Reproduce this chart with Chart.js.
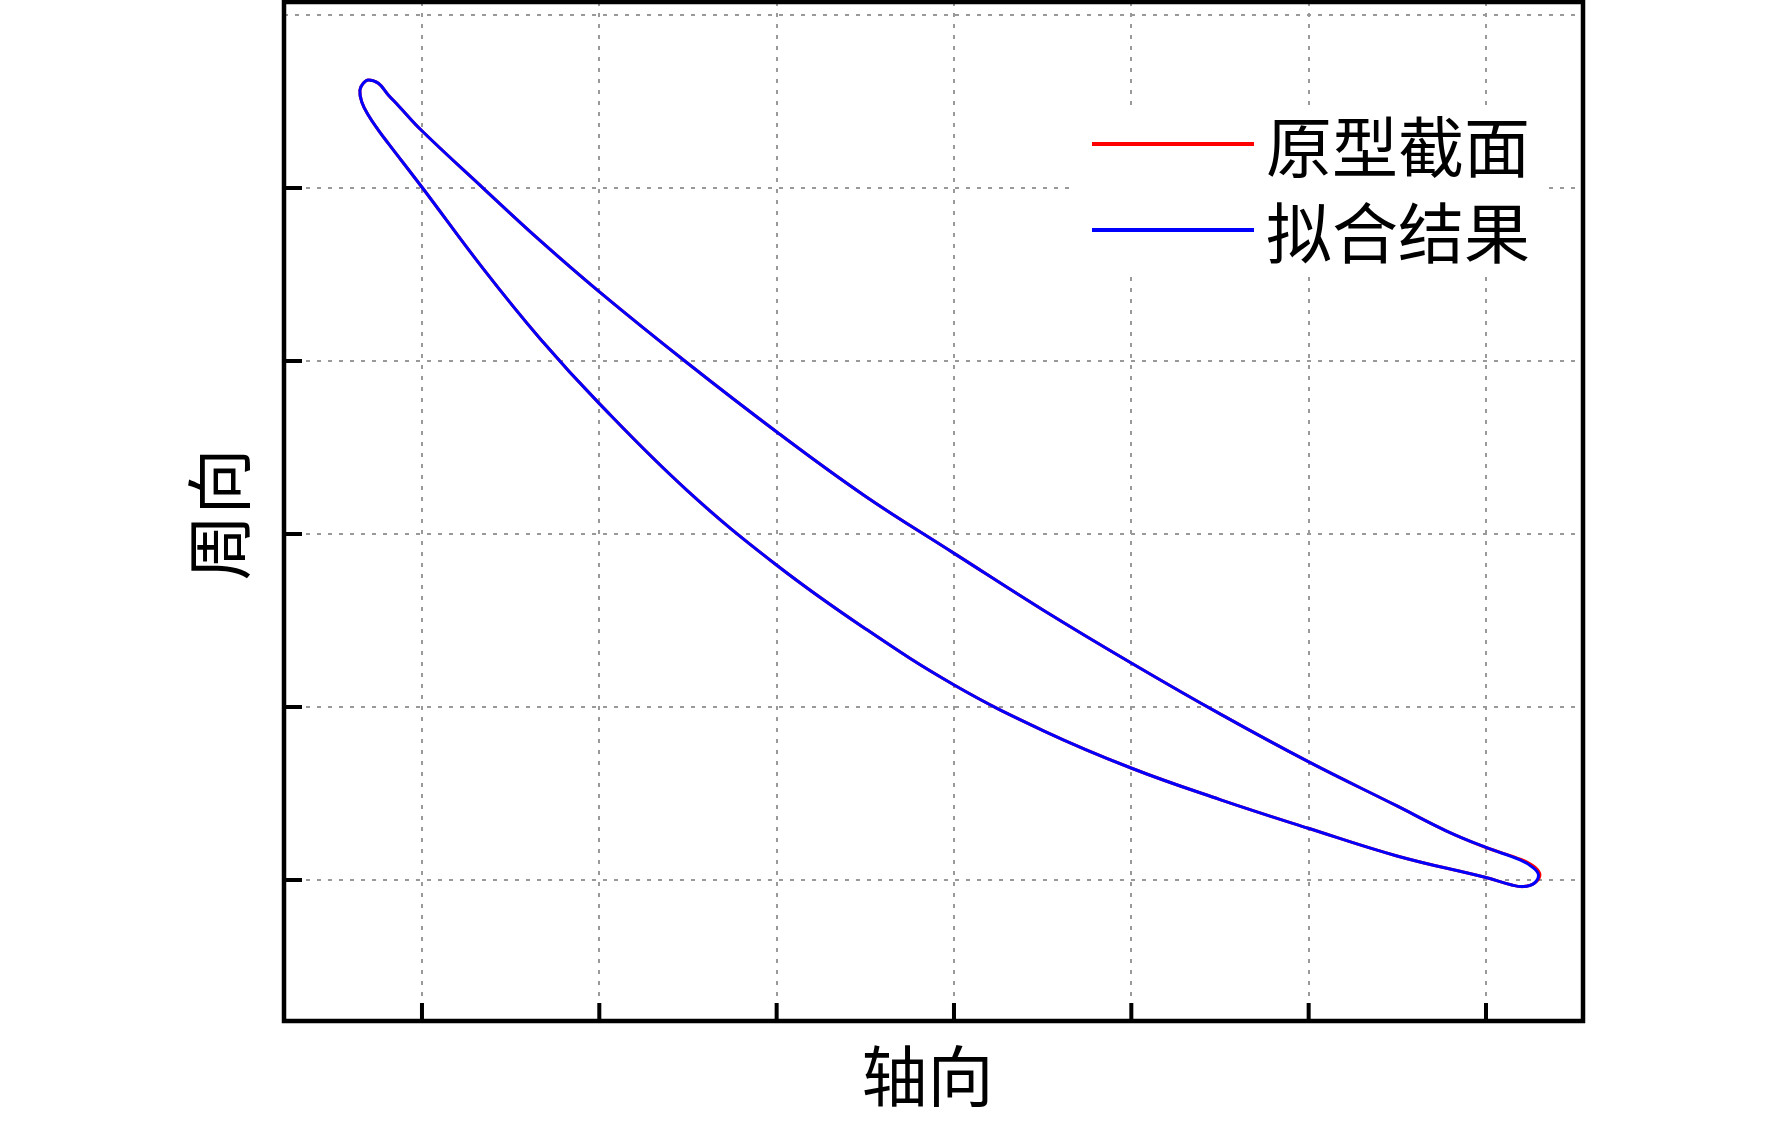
<!DOCTYPE html>
<html>
<head>
<meta charset="utf-8">
<script src="https://cdn.jsdelivr.net/npm/chart.js@4.4.0/dist/chart.umd.min.js"></script>
<style>
  html, body { margin: 0; padding: 0; background: #fff; }
  #wrap { width: 1772px; height: 1123px; }
</style>
</head>
<body>
<div id="wrap"><canvas id="chart" width="1772" height="1123"></canvas></div>
<script>
// blade section, closed loop:
// mid suction side -> trailing edge -> pressure side -> leading edge -> back along suction side
const fitX = [3.001, 3.502, 4.002, 4.500, 4.998, 5.498, 5.778, 6.000, 6.192,
  6.265, 6.296, 6.270, 6.213, 6.146,
  6.000, 5.498, 4.998, 4.500, 4.002, 3.502, 3.001, 2.498, 1.999, 1.493, 0.999, 0.665, 0.346, -0.002,
  -0.190, -0.246, -0.303, -0.340, -0.350, -0.331, -0.303, -0.246, -0.190, -0.134,
  -0.002, 0.346, 0.665, 0.999, 1.493, 1.999, 2.498, 3.001];
const fitY = [1.888, 1.561, 1.253, 0.960, 0.684, 0.428, 0.283, 0.188, 0.116,
  0.072, 0.029, -0.020, -0.038, -0.029,
  0.014, 0.139, 0.299, 0.465, 0.646, 0.864, 1.127, 1.454, 1.821, 2.254, 2.755, 3.130, 3.532, 4.007,
  4.258, 4.335, 4.422, 4.499, 4.566, 4.605, 4.624, 4.605, 4.538, 4.477,
  4.332, 3.998, 3.697, 3.401, 2.991, 2.591, 2.220, 1.888];

// original section: same outline, a hair off only at the trailing edge
const origX = [3.001, 3.502, 4.002, 4.500, 4.998, 5.498, 5.778, 6.000, 6.197,
  6.274, 6.304, 6.274, 6.213, 6.146,
  6.000, 5.498, 4.998, 4.500, 4.002, 3.502, 3.001, 2.498, 1.999, 1.493, 0.999, 0.665, 0.346, -0.002,
  -0.190, -0.246, -0.303, -0.340, -0.350, -0.331, -0.303, -0.246, -0.190, -0.134,
  -0.002, 0.346, 0.665, 0.999, 1.493, 1.999, 2.498, 3.001];
const origY = [1.888, 1.561, 1.253, 0.960, 0.684, 0.428, 0.283, 0.188, 0.119,
  0.075, 0.029, -0.018, -0.038, -0.029,
  0.014, 0.139, 0.299, 0.465, 0.646, 0.864, 1.127, 1.454, 1.821, 2.254, 2.755, 3.130, 3.532, 4.007,
  4.258, 4.335, 4.422, 4.499, 4.566, 4.605, 4.624, 4.605, 4.538, 4.477,
  4.332, 3.998, 3.697, 3.401, 2.991, 2.591, 2.220, 1.888];

const xTicks = [0, 1, 2, 3, 4, 5, 6];
const yTicks = [0, 1, 2, 3, 4];
const yGrid = [0, 1, 2, 3, 4, 5];
const seriesNames = ['原型截面', '拟合结果'];
const xTitle = '轴向';
const yTitle = '周向';

const FONT = '"Noto Sans CJK SC", "Noto Sans CJK JP", sans-serif';
const toPts = (xs, ys) => xs.map((x, i) => ({ x, y: ys[i] }));

const frame = {
  id: 'frame',
  beforeDatasetsDraw(chart) {
    // legend box hides the grid behind it
    const { ctx } = chart;
    ctx.save();
    ctx.fillStyle = '#fff';
    ctx.fillRect(1073, 107, 472, 165);
    ctx.restore();
  },
  afterDraw(chart) {
    const { ctx, chartArea: a, scales: { x, y } } = chart;
    ctx.save();

    // inward tick marks
    ctx.strokeStyle = '#000';
    ctx.lineWidth = 4;
    ctx.beginPath();
    xTicks.forEach(v => {
      const px = x.getPixelForValue(v);
      ctx.moveTo(px, a.bottom);
      ctx.lineTo(px, a.bottom - 18);
    });
    yTicks.forEach(v => {
      const py = y.getPixelForValue(v);
      ctx.moveTo(a.left, py);
      ctx.lineTo(a.left + 18, py);
    });
    ctx.stroke();

    // frame
    ctx.lineWidth = 4.5;
    ctx.strokeRect(a.left, a.top, a.right - a.left, a.bottom - a.top);

    // legend
    ctx.font = '66px ' + FONT;
    ctx.textBaseline = 'middle';
    ctx.textAlign = 'left';
    chart.data.datasets.forEach((ds, i) => {
      const ly = 144 + i * 86;
      ctx.strokeStyle = ds.borderColor;
      ctx.lineWidth = 4;
      ctx.beginPath();
      ctx.moveTo(1092, ly);
      ctx.lineTo(1254, ly);
      ctx.stroke();
      ctx.fillStyle = '#000';
      ctx.fillText(ds.label, 1266, ly + 3);
    });

    // axis titles
    ctx.textAlign = 'center';
    ctx.fillText(xTitle, (a.left + a.right) / 2 - 6, 1076);
    ctx.translate(219, (a.top + a.bottom) / 2 + 3);
    ctx.rotate(-Math.PI / 2);
    ctx.fillText(yTitle, 0, 0);
    ctx.restore();
  }
};

function draw() {
  new Chart(document.getElementById('chart'), {
    type: 'scatter',
    data: {
      datasets: [
        { label: seriesNames[0], data: toPts(origX, origY), borderColor: '#ff0000', backgroundColor: '#ff0000', order: 2 },
        { label: seriesNames[1], data: toPts(fitX, fitY), borderColor: '#0000ff', backgroundColor: '#0000ff', order: 1 }
      ]
    },
    options: {
      responsive: false,
      animation: false,
      devicePixelRatio: 1,
      layout: { padding: { left: 284, right: 189, top: 2, bottom: 102 } },
      elements: {
        line: { borderWidth: 3, tension: 0.4, fill: false },
        point: { radius: 0, hoverRadius: 0 }
      },
      datasets: { scatter: { showLine: true } },
      plugins: { legend: { display: false }, tooltip: { enabled: false } },
      scales: {
        x: {
          type: 'linear', min: -0.778, max: 6.547,
          afterBuildTicks: s => { s.ticks = xTicks.map(v => ({ value: v })); },
          ticks: { display: false },
          grid: { color: '#999', lineWidth: 2, drawTicks: false },
          border: { display: false, dash: [4, 7] }
        },
        y: {
          type: 'linear', min: -0.815, max: 5.075,
          afterBuildTicks: s => { s.ticks = yGrid.map(v => ({ value: v })); },
          ticks: { display: false },
          grid: { color: '#999', lineWidth: 2, drawTicks: false },
          border: { display: false, dash: [4, 7] }
        }
      }
    },
    plugins: [frame]
  });
}

document.fonts.load('66px "Noto Sans CJK SC"', '原型截面拟合结果轴向周向').then(draw, draw);
</script>
</body>
</html>
